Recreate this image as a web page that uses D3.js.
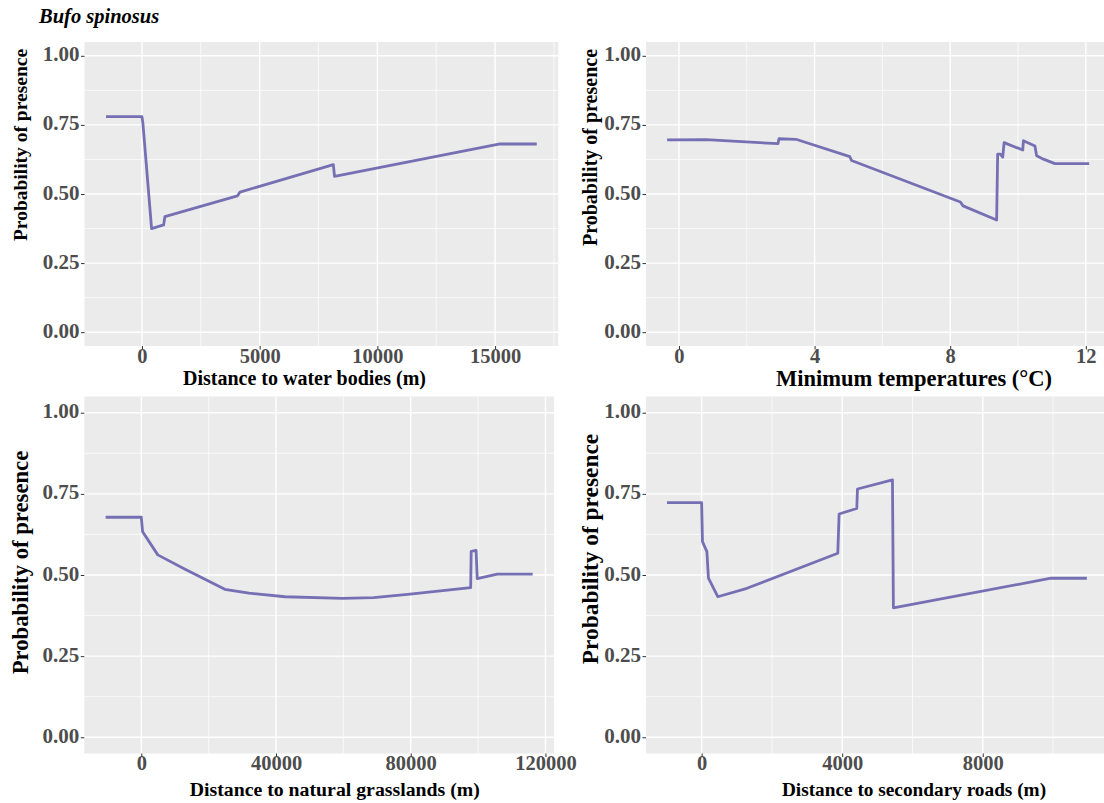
<!DOCTYPE html>
<html>
<head>
<meta charset="utf-8">
<script src="https://cdn.jsdelivr.net/npm/d3@7"></script>
<style>
  body { margin: 0; background: #fff; }
  svg { display: block; }
  text { font-family: "Liberation Serif", "Times New Roman", serif; font-weight: bold; }
</style>
</head>
<body>
<svg id="chart" width="1104" height="803"></svg>
<script>
// response curves
const waterX = [-1525, 0, 40, 410, 920, 975, 4055, 4165, 8130, 8180, 15210, 16770];
const waterY = [0.780, 0.780, 0.757, 0.375, 0.388, 0.418, 0.493, 0.507, 0.606, 0.564, 0.681, 0.681];

const tminX = [-0.35, 0.8, 2.92, 2.95, 3.45, 5.04, 5.09, 8.30, 8.38, 9.37, 9.40, 9.48, 9.55, 9.59, 10.14, 10.16, 10.50, 10.55, 10.75, 11.09, 12.10];
const tminY = [0.696, 0.697, 0.682, 0.700, 0.698, 0.635, 0.621, 0.471, 0.457, 0.406, 0.644, 0.644, 0.633, 0.686, 0.659, 0.693, 0.674, 0.638, 0.626, 0.610, 0.610];

const grassX = [-10580, 0, 400, 4900, 13000, 24800, 32000, 42700, 59700, 69000, 79800, 97800, 97950, 99400, 99750, 105700, 116200];
const grassY = [0.678, 0.678, 0.633, 0.562, 0.518, 0.456, 0.444, 0.433, 0.428, 0.430, 0.441, 0.461, 0.573, 0.576, 0.489, 0.503, 0.503];

const roadsX = [-985, 0, 25, 150, 195, 460, 1290, 3875, 3912, 4415, 4435, 5430, 5457, 9945, 10960];
const roadsY = [0.723, 0.723, 0.603, 0.572, 0.490, 0.433, 0.459, 0.567, 0.688, 0.705, 0.765, 0.793, 0.399, 0.490, 0.490];

const yTicks = [0, 0.25, 0.5, 0.75, 1];
const waterTicks = [0, 5000, 10000, 15000];
const tminTicks = [0, 4, 8, 12];
const grassTicks = [0, 40000, 80000, 120000];
const roadsTicks = [0, 4000, 8000];

const speciesName = 'Bufo spinosus';
const yTitle = 'Probability of presence';
const xTitles = [
  'Distance to water bodies (m)',
  'Minimum temperatures (°C)',
  'Distance to natural grasslands (m)',
  'Distance to secondary roads (m)'
];

const lineColor = '#7570b3';

// panel boxes and text placement
const panels = [
  { xs: waterX, ys: waterY, ticks: waterTicks, title: xTitles[0],
    left: 84.5, right: 558.3, top: 42, bottom: 346, tickGap: 16.8,
    xt: { x: 304.5, y: 385, size: 20 }, yt: { x: 27, y: 145, size: 19.5 } },
  { xs: tminX, ys: tminY, ticks: tminTicks, title: xTitles[1],
    left: 646, right: 1110.3, top: 42, bottom: 346, tickGap: 16.5,
    xt: { x: 914, y: 385.5, size: 22.5 }, yt: { x: 596.5, y: 147.5, size: 20 } },
  { xs: grassX, ys: grassY, ticks: grassTicks, title: xTitles[2],
    left: 84.3, right: 554, top: 396.5, bottom: 753.5, tickGap: 16,
    xt: { x: 334.8, y: 795.5, size: 19.8 }, yt: { x: 27.5, y: 562.5, size: 22.7 } },
  { xs: roadsX, ys: roadsY, ticks: roadsTicks, title: xTitles[3],
    left: 646, right: 1107.8, top: 396.5, bottom: 753.5, tickGap: 16,
    xt: { x: 914, y: 795.5, size: 19.3 }, yt: { x: 598, y: 549, size: 23.4 } }
];

const svg = d3.select('#chart');

svg.append('text')
  .attr('x', 39)
  .attr('y', 22.7)
  .attr('font-size', 20.5)
  .attr('font-style', 'italic')
  .attr('fill', '#000')
  .text(speciesName);

function minorTicks(ticks, domain) {
  const step = ticks[1] - ticks[0];
  const out = [];
  for (let i = -1; i < ticks.length; i++) {
    const v = ticks[0] + (i + 0.5) * step;
    if (v >= domain[0] && v <= domain[1]) out.push(v);
  }
  return out;
}

function drawPanel(p) {
  const [xmin, xmax] = d3.extent(p.xs);
  const pad = (xmax - xmin) * 0.05;
  const x = d3.scaleLinear().domain([xmin - pad, xmax + pad]).range([p.left, p.right]);
  const y = d3.scaleLinear().domain([-0.05, 1.05]).range([p.bottom, p.top]);

  const g = svg.append('g');

  g.append('rect')
    .attr('x', p.left)
    .attr('y', p.top)
    .attr('width', p.right - p.left)
    .attr('height', p.bottom - p.top)
    .attr('fill', '#ebebeb');

  const grid = g.append('g').attr('stroke', '#fff');

  grid.selectAll('.ymin')
    .data(minorTicks(yTicks, y.domain()))
    .enter().append('line')
    .attr('x1', p.left).attr('x2', p.right)
    .attr('y1', d => y(d)).attr('y2', d => y(d))
    .attr('stroke-width', 0.7);

  grid.selectAll('.xmin')
    .data(minorTicks(p.ticks, x.domain()))
    .enter().append('line')
    .attr('y1', p.top).attr('y2', p.bottom)
    .attr('x1', d => x(d)).attr('x2', d => x(d))
    .attr('stroke-width', 0.7);

  grid.selectAll('.ymaj')
    .data(yTicks)
    .enter().append('line')
    .attr('x1', p.left).attr('x2', p.right)
    .attr('y1', d => y(d)).attr('y2', d => y(d))
    .attr('stroke-width', 1.4);

  grid.selectAll('.xmaj')
    .data(p.ticks)
    .enter().append('line')
    .attr('y1', p.top).attr('y2', p.bottom)
    .attr('x1', d => x(d)).attr('x2', d => x(d))
    .attr('stroke-width', 1.4);

  const line = d3.line()
    .x((d, i) => x(p.xs[i]))
    .y((d, i) => y(p.ys[i]));

  g.append('path')
    .datum(p.xs)
    .attr('d', line)
    .attr('fill', 'none')
    .attr('stroke', lineColor)
    .attr('stroke-width', 2.8)
    .attr('stroke-linejoin', 'round');

  // axes
  const xAxis = g.append('g')
    .attr('transform', `translate(0,${p.bottom})`)
    .call(d3.axisBottom(x).tickValues(p.ticks).tickSize(3.5).tickFormat(d3.format('d')));

  xAxis.selectAll('text')
    .attr('y', p.tickGap)
    .attr('dy', null)
    .attr('font-size', 20.5)
    .attr('font-family', null)
    .attr('fill', '#4d4d4d');

  const yAxis = g.append('g')
    .attr('transform', `translate(${p.left},0)`)
    .call(d3.axisLeft(y).tickValues(yTicks).tickSize(3.5).tickPadding(1.5).tickFormat(d3.format('.2f')));

  yAxis.selectAll('text')
    .attr('dy', '0.24em')
    .attr('font-size', 21)
    .attr('font-family', null)
    .attr('fill', '#4d4d4d');

  [xAxis, yAxis].forEach(a => {
    a.select('.domain').remove();
    a.attr('font-family', null);
    a.selectAll('line').attr('stroke', '#333').attr('stroke-width', 1);
  });

  g.append('text')
    .attr('x', p.xt.x)
    .attr('y', p.xt.y)
    .attr('text-anchor', 'middle')
    .attr('font-size', p.xt.size)
    .attr('fill', '#000')
    .text(p.title);

  g.append('text')
    .attr('transform', `translate(${p.yt.x},${p.yt.y}) rotate(-90)`)
    .attr('text-anchor', 'middle')
    .attr('font-size', p.yt.size)
    .attr('fill', '#000')
    .text(yTitle);
}

panels.forEach(drawPanel);
</script>
</body>
</html>
